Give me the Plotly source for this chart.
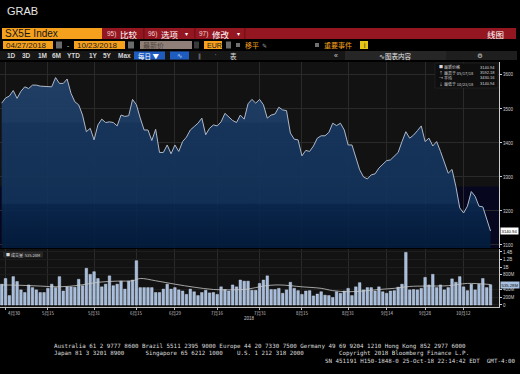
import plotly.graph_objects as go
import pandas as pd

W, H = 520, 374
SANS = "Liberation Sans, Noto Sans CJK SC, sans-serif"
CJK = "Noto Sans CJK SC, Liberation Sans, sans-serif"
MONO = "DejaVu Sans Mono, Liberation Mono, monospace"

# ---------------- data ----------------
dates = [d.strftime("%Y-%m-%d") for d in pd.bdate_range("2018-04-27", "2018-10-23")]

price = [3517, 3532, 3538, 3554, 3531, 3552, 3565, 3560, 3570, 3570,
         3567, 3566, 3565, 3565, 3592.18, 3575, 3575, 3588, 3546, 3521,
         3512, 3482, 3433, 3443, 3409, 3453, 3470, 3460, 3462, 3460,
         3450, 3482, 3478, 3480, 3528, 3512, 3473, 3438, 3438, 3407,
         3440, 3372, 3372, 3394, 3368, 3394, 3375, 3404, 3417, 3438,
         3448, 3458, 3473, 3424, 3443, 3453, 3450, 3462, 3487, 3475,
         3466, 3460, 3482, 3470, 3515, 3528, 3517, 3528, 3512, 3473,
         3482, 3485, 3505, 3497, 3495, 3429, 3411, 3409, 3362, 3378,
         3375, 3391, 3414, 3421, 3421, 3431, 3458, 3451, 3458, 3438,
         3394, 3394, 3360, 3321, 3300, 3294, 3306, 3309, 3326, 3336,
         3348, 3350, 3362, 3372, 3404, 3433, 3414, 3423, 3436, 3450,
         3404, 3414, 3391, 3404, 3375, 3346, 3311, 3322, 3272, 3209,
         3194, 3214, 3257, 3243, 3214, 3212, 3178, 3140.94]

volume_b = [0.55, 0.70, 0.25, 0.75, 0.62, 0.40, 0.33, 0.53, 0.46, 0.40,
            0.33, 0.33, 0.44, 0.55, 0.46, 0.75, 0.37, 0.48, 0.48, 0.47,
            0.68, 0.51, 0.97, 0.81, 0.88, 0.70, 0.48, 0.55, 0.77, 0.51,
            0.55, 0.63, 0.42, 0.63, 0.66, 1.17, 0.46, 0.46, 0.46, 0.46,
            0.33, 0.33, 0.42, 0.55, 0.42, 0.46, 0.40, 0.37, 0.28, 0.42,
            0.35, 0.25, 0.33, 0.39, 0.32, 0.33, 0.28, 0.48, 0.41, 0.37,
            0.53, 0.48, 0.66, 0.63, 0.63, 0.39, 0.39, 0.57, 0.66, 0.77,
            0.41, 0.41, 0.44, 0.31, 0.40, 0.60, 0.44, 0.38, 0.28, 0.37,
            0.38, 0.24, 0.29, 0.35, 0.26, 0.25, 0.20, 0.35, 0.31, 0.37,
            0.44, 0.25, 0.48, 0.59, 0.40, 0.46, 0.46, 0.37, 0.48, 0.35,
            0.31, 0.37, 0.38, 0.47, 0.55, 1.39, 0.40, 0.41, 0.40, 0.44,
            0.73, 0.53, 0.81, 0.46, 0.53, 0.40, 0.46, 0.69, 0.60, 0.75,
            0.48, 0.38, 0.55, 0.40, 0.55, 0.70, 0.46, 0.53528]

ma_pos = [0, 5, 10, 15, 20, 25, 30, 34, 36, 40, 45, 50, 55, 60, 64, 68, 72, 78,
          83, 86, 90, 94, 98, 102, 106, 110, 116, 121, 127]
ma_vol = [0.53, 0.52, 0.50, 0.48, 0.52, 0.60, 0.63, 0.64, 0.70, 0.64, 0.55, 0.47,
          0.41, 0.40, 0.42, 0.50, 0.53, 0.48, 0.44, 0.38, 0.35, 0.37, 0.41, 0.44,
          0.49, 0.50, 0.51, 0.57, 0.54]

tick_dates = ["2018-04-30", "2018-05-15", "2018-05-31", "2018-06-15", "2018-06-29",
              "2018-07-16", "2018-07-31", "2018-08-15", "2018-08-31", "2018-09-14",
              "2018-09-28", "2018-10-12"]
tick_labels = ["4月30", "5月15", "5月31", "6月15", "6月29", "7月16", "7月31",
               "8月15", "8月31", "9月14", "9月28", "10月12"]
price_ticks = [3100, 3200, 3300, 3400, 3500, 3600]
vol_ticks = [0, 0.2, 0.4, 0.8, 1.0, 1.2, 1.4]
vol_tick_labels = ["0", "200M", "400M", "800M", "1B", "1.2B", "1.4B"]

# ---------------- helpers ----------------
shapes, annos = [], []


def rect(x0, y0, x1, y1, color, line=None):
    shapes.append(dict(type="rect", xref="paper", yref="paper",
                       x0=x0 / W, x1=x1 / W, y0=1 - y1 / H, y1=1 - y0 / H,
                       fillcolor=color, line=dict(width=0) if line is None else line,
                       layer="above"))


def txt(x, y, s, size, color, anchor="left", family=SANS, bg=None):
    d = dict(x=x / W, y=1 - y / H, xref="paper", yref="paper", text=s,
             showarrow=False, xanchor=anchor, yanchor="middle",
             font=dict(size=size, color=color, family=family), borderpad=0)
    if bg:
        d["bgcolor"] = bg
    annos.append(d)


ORANGE = "#f6a11e"
RED = "#941620"

# ---------------- figure ----------------
fig = go.Figure()

fig.add_trace(go.Scatter(
    x=dates, y=price, mode="lines", xaxis="x", yaxis="y",
    line=dict(color="#aeb8c8", width=1),
    fill="tozeroy",
    fillgradient=dict(type="vertical", start=3091, stop=3600,
                      colorscale=[[0, "rgba(3,28,60,0.93)"], [0.25, "rgba(10,40,78,0.93)"],
                                  [0.26, "rgba(18,49,89,0.93)"], [0.72, "rgba(23,54,95,0.93)"],
                                  [0.73, "rgba(29,60,101,0.93)"], [1, "rgba(34,66,107,0.93)"]]),
    hoverinfo="skip", showlegend=False))

fig.add_trace(go.Bar(
    x=dates, y=volume_b, xaxis="x2", yaxis="y2",
    marker=dict(color="#a5bcdc", line=dict(color="#d6e2f2", width=0.4)),
    hoverinfo="skip", showlegend=False))

fig.add_trace(go.Scatter(
    x=[dates[i] for i in ma_pos], y=ma_vol, mode="lines", xaxis="x2", yaxis="y2",
    line=dict(color="#c8c8c8", width=0.8, shape="spline"),
    hoverinfo="skip", showlegend=False))

xdom = [0, 499 / W]
xr = [-0.44, 129.2]
common_x = dict(type="category", categoryorder="array", categoryarray=dates,
                range=xr, domain=xdom, tickvals=tick_dates, showticklabels=False,
                showgrid=True, gridcolor="#2a2a2a", gridwidth=1, zeroline=False)

fig.update_layout(
    width=W, height=H, margin=dict(l=0, r=0, t=0, b=0),
    paper_bgcolor="#000000", plot_bgcolor="#121212",
    bargap=0.32, showlegend=False,
    xaxis=dict(**common_x, anchor="y", showline=False, ticks=""),
    xaxis2=dict(**common_x, anchor="y2", showline=True, linecolor="#bdbdbd",
                linewidth=1, ticks="outside", ticklen=2, tickcolor="#bdbdbd"),
    yaxis=dict(domain=[1 - 248 / H, 1 - 62 / H], range=[3091, 3638], side="right",
               anchor="x", tickvals=price_ticks, ticks="outside", ticklen=2,
               tickcolor="#d0d0d0", tickfont=dict(size=4.5, color="#d0d0d0", family=SANS),
               showline=True, linecolor="#d0d0d0", linewidth=1,
               gridcolor="#2a2a2a", zeroline=False),
    yaxis2=dict(domain=[1 - 307 / H, 1 - 249 / H], range=[-0.053, 1.479], side="right",
                anchor="x2", tickvals=vol_ticks, ticktext=vol_tick_labels,
                ticks="outside", ticklen=2, tickcolor="#d0d0d0",
                tickfont=dict(size=4.5, color="#d0d0d0", family=SANS),
                showline=True, linecolor="#d0d0d0", linewidth=1,
                gridcolor="#1e1e1e", zeroline=False),
)

# navy band behind lower part of price panel
fig.add_shape(type="rect", xref="x domain", yref="y", x0=0, x1=1, y0=3091, y1=3272,
              fillcolor="#06061f", line=dict(width=0), layer="below")

# ---------------- header ----------------
txt(6, 10.5, "GRAB", 11, "#e6e6e6")

rect(2, 28, 102, 39, ORANGE)
rect(102, 28, 516, 39, RED)
for sx in (143.5, 194.5, 244.5):
    rect(sx, 28, sx + 0.8, 39, "#5c0a10")
txt(4, 33.6, "SX5E Index", 10, "#151515")
txt(106, 33.6, "95)", 6.5, "#f0d0d0")
txt(119, 33.6, "比较", 8.5, "#ffffff", family=CJK)
txt(147, 33.6, "96)", 6.5, "#f0d0d0")
txt(160, 33.6, "选项", 8.5, "#ffffff", family=CJK)
txt(184, 34, "▾", 6, "#ffffff")
txt(198, 33.6, "97)", 6.5, "#f0d0d0")
txt(211, 33.6, "修改", 8.5, "#ffffff", family=CJK)
txt(236, 34, "▾", 6, "#ffffff")
txt(505, 33.6, "线图", 8.5, "#ffffff", anchor="right", family=CJK)

# row 2
rect(3, 41, 53, 49, ORANGE)
txt(5, 45.2, "04/27/2018", 8, "#1a1a1a")
rect(56, 41.5, 62, 48.5, "#6a6a6a")
txt(66, 45, "-", 7, "#d0d0d0")
rect(74, 41, 125, 49, ORANGE)
txt(76, 45.2, "10/23/2018", 8, "#1a1a1a")
rect(128, 41.5, 134, 48.5, "#6a6a6a")
rect(140, 41, 192, 49, "#8e8079")
txt(142, 45, "最新价", 7, "#4e433d", family=CJK)
rect(194, 41.5, 199, 48.5, "#3a3a3a")
rect(204, 41, 222, 49, ORANGE)
txt(206, 45.2, "EUR", 7, "#1a1a1a")
rect(226, 41.5, 231, 48.5, "#6a6a6a")
rect(236, 43, 240, 47, "#707070")
txt(244, 45, "移平", 7, ORANGE, family=CJK)
txt(261, 45, "✎", 6, "#9a9a9a", family="DejaVu Sans")
rect(315, 43, 319, 47, "#707070")
txt(323, 45, "重要事件", 7, ORANGE, family=CJK)
rect(360, 41, 368, 49, "#e6c416")
txt(364, 45, "i", 6.5, "#1a1a1a", anchor="center")

# row 3
rect(0, 51, 517, 60, "#161616")
rect(345, 51, 446, 60, "#262626")
rect(446, 51, 517, 60, "#1e1e1e")
for lbl, lx in [("1D", 6), ("3D", 21), ("1M", 37), ("6M", 51), ("YTD", 66),
                ("1Y", 88), ("5Y", 102), ("Max", 117)]:
    txt(lx, 55.8, "<b>" + lbl + "</b>", 6.5, "#d4d4d4")
rect(134, 51.5, 165, 59.5, "#1f5cc0")
txt(137, 55.6, "每日 ▼", 6.5, "#ffffff", family=CJK)
rect(170, 51.5, 189, 59.5, "#1f5cc0")
txt(179.5, 55.6, "∿", 6.5, "#cfe0ff", anchor="center", family="DejaVu Sans")
txt(199, 55.6, "‖", 6, "#9a9a9a", anchor="center", family="DejaVu Sans")
txt(215, 55.6, "'", 6, "#9a9a9a", anchor="center")
txt(233, 55.6, "表", 6.5, "#e0e0e0", anchor="center", family=CJK)
txt(336, 55.6, "«", 7, "#d0d0d0", anchor="center")
txt(378, 55.6, "∿图表内容", 6.5, "#e8e8e8", family=CJK)
txt(480, 55.6, "⚙", 6.5, "#d0d0d0", anchor="center", family="DejaVu Sans")

# ---------------- price legend box ----------------
rect(435, 63, 498, 88, "#0e0e0e", line=dict(color="#2c2c2c", width=0.5))
hi = max(price)
hi_date = dates[price.index(hi)]
lo = min(price)
lo_date = dates[price.index(lo)]
avg = sum(price) / len(price)


def mdy(s):
    y, m, d = s.split("-")
    return f"{m}/{d}/{y[2:]}"


leg_rows = [("■ 最新价格", price[-1]), ("↑ 最高于 " + mdy(hi_date), hi),
            ("→ 平均", avg), ("↓ 最低于 " + mdy(lo_date), lo)]
for k, (lab, val) in enumerate(leg_rows):
    yy = 67 + k * 5.5
    txt(438, yy, lab, 4, "#d8d8d8", family=CJK)
    txt(496, yy, f"{val:.2f}", 4, "#d8d8d8", anchor="right")

# last price / last volume markers on the axes
annos.append(dict(x=500 / W, y=price[-1], xref="paper", yref="y", text=f"{price[-1]:.2f}",
                  showarrow=False, xanchor="left", yanchor="middle",
                  font=dict(size=4.2, color="#000000", family=SANS),
                  bgcolor="#ffffff", borderpad=0.6))
annos.append(dict(x=500 / W, y=volume_b[-1], xref="paper", yref="y2",
                  text=f"{volume_b[-1] * 1000:.2f}M",
                  showarrow=False, xanchor="left", yanchor="middle",
                  font=dict(size=4.2, color="#101010", family=SANS),
                  bgcolor="#a9c1e0", borderpad=0.6))

# volume legend
rect(3, 251.5, 43, 257.5, "#262626")
txt(5, 254.5, "■ 成交量  " + f"{volume_b[-1] * 1000:.2f}M", 4, "#d8d8d8", family=CJK)

# x tick labels (date axis)
for i, (d, lab) in enumerate(zip(tick_dates, tick_labels)):
    annos.append(dict(x=d, xref="x2", y=1 - 313 / H, yref="paper", text=lab,
                      showarrow=False, xanchor="left" if i == 0 else "center",
                      yanchor="middle",
                      font=dict(size=4.5, color="#c8c8c8", family=CJK)))
txt(249, 318, "2018", 4.5, "#c8c8c8", anchor="center")

# ---------------- footer ----------------
NB = "\u00a0"
line1 = ("Australia 61 2 9777 8600 Brazil 5511 2395 9000 Europe 44 20 7330 7500 "
         "Germany 49 69 9204 1210 Hong Kong 852 2977 6000").replace(" ", NB)
line2 = ("Japan 81 3 3201 8900" + " " * 6 + "Singapore 65 6212 1000" + " " * 4 +
         "U.S. 1 212 318 2000" + " " * 10 + "Copyright 2018 Bloomberg Finance L.P.").replace(" ", NB)
line3 = "SN 451191 H150-1848-0 25-Oct-18 22:14:42 EDT  GMT-4:00".replace(" ", NB)
txt(53, 346.3, line1, 5.85, "#dcdcdc", family=MONO)
txt(53, 353.3, line2, 5.85, "#dcdcdc", family=MONO)
txt(516, 360.8, line3, 5.85, "#dcdcdc", anchor="right", family=MONO)

for s in shapes:
    fig.add_shape(**s)
fig.update_layout(annotations=annos)

fig.write_html("out.html", config={"displayModeBar": False},
               post_script="document.body.style.margin='0';document.body.style.background='#000';")
